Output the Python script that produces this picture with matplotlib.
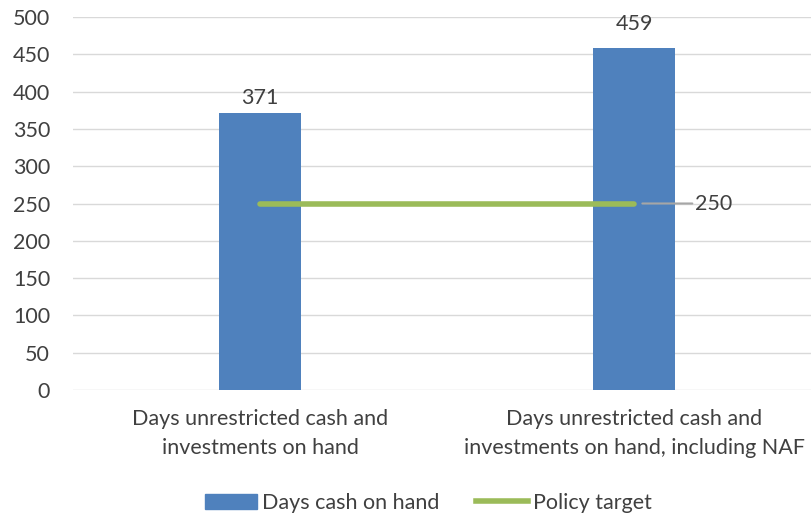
import matplotlib
matplotlib.use('Agg')
import matplotlib.pyplot as plt
from matplotlib.patches import Patch
from matplotlib.lines import Line2D

plt.rcParams['font.family'] = ['Lato', 'DejaVu Sans']

categories = ["Days unrestricted cash and\ninvestments on hand",
              "Days unrestricted cash and\ninvestments on hand, including NAF"]
days_cash = [371, 459]
policy_target = [250, 250]

BAR_COLOR = "#4F81BD"
LINE_COLOR = "#9BBB59"
TEXT = "#404040"
FS = 15.5
W, H = 811, 517

fig = plt.figure(figsize=(W / 100, H / 100), dpi=100)
# plot area runs past the right edge of the image, as in the original
ax = fig.add_axes([73 / W, (H - 390) / H, 748 / W, 373 / H])

x = list(range(len(categories)))
ax.bar(x, days_cash, width=0.22, color=BAR_COLOR, zorder=2)
ax.plot(x, policy_target, color=LINE_COLOR, linewidth=4, solid_capstyle='round', zorder=3)

label_offsets = [4, 10]
for xi, v, off in zip(x, days_cash, label_offsets):
    ax.annotate(str(v), (xi, v), xytext=(0, off), textcoords='offset points',
                ha='center', va='bottom', fontsize=FS, color=TEXT)

# data label for the last point of the policy target, with leader line
ax.annotate(str(policy_target[-1]), (x[-1], policy_target[-1]), xytext=(44, 0),
            textcoords='offset points', ha='left', va='center', fontsize=FS, color=TEXT,
            arrowprops=dict(arrowstyle='-', color='#A6A6A6', lw=1.5, shrinkA=0, shrinkB=6),
            zorder=4)

ax.set_xlim(-0.5, 1.5)
ax.set_ylim(0, 500)
ax.set_yticks(range(0, 501, 50))
ax.yaxis.grid(True, color='#D9D9D9', linewidth=1)
ax.set_axisbelow(True)
for s in ax.spines.values():
    s.set_visible(False)
ax.tick_params(axis='y', length=0, pad=16.5, labelsize=FS, labelcolor=TEXT)
ax.tick_params(axis='x', length=0, pad=14, labelsize=FS, labelcolor=TEXT)
ax.set_xticks(x)
ax.set_xticklabels(categories, linespacing=1.55)

handles = [Patch(color=BAR_COLOR), Line2D([0], [0], color=LINE_COLOR, lw=4)]
fig.legend(handles, ["Days cash on hand", "Policy target"], loc='center',
           bbox_to_anchor=(428 / W, (H - 503) / H), ncol=2, frameon=False,
           fontsize=FS, labelcolor=TEXT, handlelength=2.45, handletextpad=0.2,
           columnspacing=1.7)

fig.savefig("out.png", dpi=100)
